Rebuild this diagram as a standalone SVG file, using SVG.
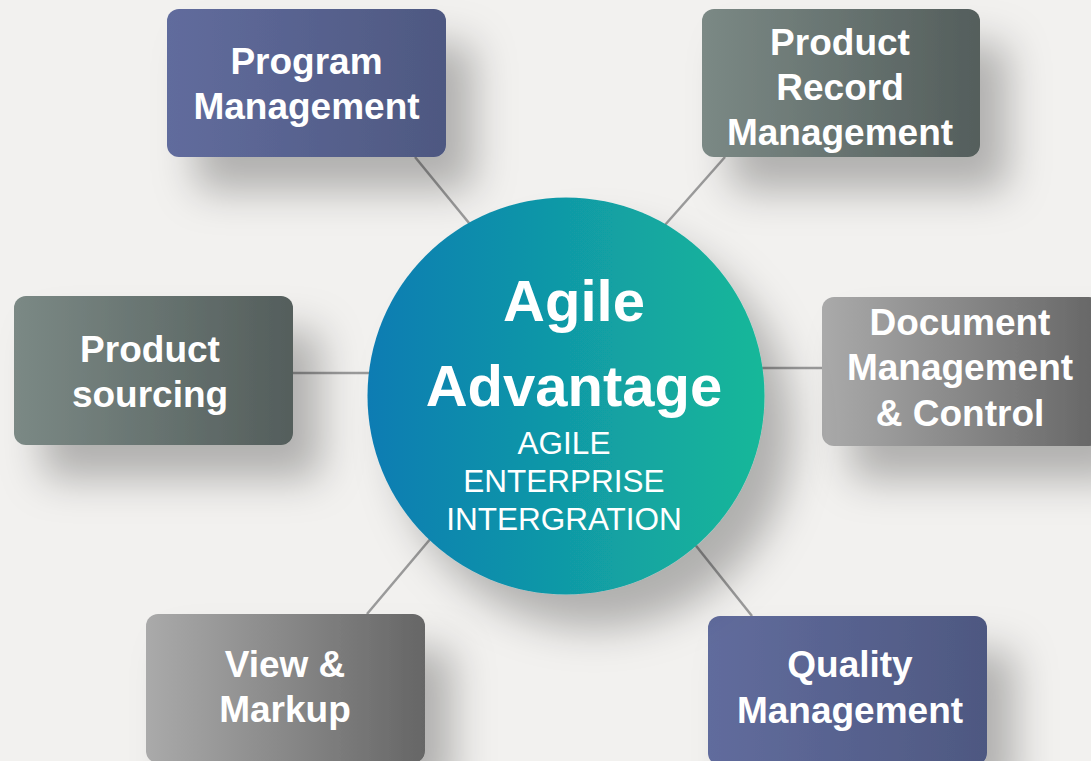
<svg xmlns="http://www.w3.org/2000/svg" width="1091" height="761" viewBox="0 0 1091 761">
  <defs>
    <linearGradient id="gBlue" x1="0" y1="0" x2="1" y2="0">
      <stop offset="0" stop-color="#616c9d"/>
      <stop offset="1" stop-color="#4e5881"/>
    </linearGradient>
    <linearGradient id="gSlate" x1="0" y1="0" x2="1" y2="0">
      <stop offset="0" stop-color="#7b8985"/>
      <stop offset="1" stop-color="#545e5c"/>
    </linearGradient>
    <linearGradient id="gGray" x1="0" y1="0" x2="1" y2="0">
      <stop offset="0" stop-color="#aaaaaa"/>
      <stop offset="1" stop-color="#666666"/>
    </linearGradient>
    <linearGradient id="gCircle" x1="0" y1="0" x2="1" y2="0">
      <stop offset="0" stop-color="#0d7cb3"/>
      <stop offset="1" stop-color="#15b899"/>
    </linearGradient>
    <filter id="shadow" x="-40%" y="-40%" width="190%" height="220%">
      <feGaussianBlur in="SourceAlpha" stdDeviation="20" result="b"/>
      <feOffset in="b" dx="28" dy="34" result="o"/>
      <feFlood flood-color="#000" flood-opacity="0.27"/>
      <feComposite in2="o" operator="in" result="s"/>
      <feMerge>
        <feMergeNode in="s"/>
        <feMergeNode in="SourceGraphic"/>
      </feMerge>
    </filter>
  </defs>
  <style>
    .box { filter: url(#shadow); }
    .lbl { font-family: "Liberation Sans", Arial, sans-serif; font-weight: bold; font-size: 37px; fill: #ffffff; text-anchor: middle; }
    .title { font-family: "Liberation Sans", Arial, sans-serif; font-weight: bold; font-size: 58px; fill: #ffffff; text-anchor: middle; }
    .sub { font-family: "Liberation Sans", Arial, sans-serif; font-size: 31.5px; fill: #ffffff; text-anchor: middle; }
    .conn { stroke: #9a9a9a; stroke-width: 2.5; fill: none; }
  </style>

  <rect x="0" y="0" width="1091" height="761" fill="#f2f1ef"/>

  <g id="connectors">
    <line class="conn" x1="415" y1="157" x2="478" y2="234"/>
    <line class="conn" x1="725" y1="157" x2="657" y2="234"/>
    <line class="conn" x1="292" y1="373" x2="380" y2="373"/>
    <line class="conn" x1="750" y1="368" x2="822" y2="368"/>
    <line class="conn" x1="367" y1="614" x2="437" y2="531"/>
    <line class="conn" x1="752" y1="616" x2="689" y2="537"/>
  </g>

  <g id="program-management">
    <rect class="box" x="167" y="9" width="279" height="148" rx="12" fill="url(#gBlue)"/>
    <text class="lbl" x="306.5" y="74">Program</text>
    <text class="lbl" x="306.5" y="118.5">Management</text>
  </g>

  <g id="product-record-management">
    <rect class="box" x="702" y="9" width="278" height="148" rx="12" fill="url(#gSlate)"/>
    <text class="lbl" x="840" y="55">Product</text>
    <text class="lbl" x="840" y="100">Record</text>
    <text class="lbl" x="840" y="145">Management</text>
  </g>

  <g id="product-sourcing">
    <rect class="box" x="14" y="296" width="279" height="149" rx="12" fill="url(#gSlate)"/>
    <text class="lbl" x="150" y="362">Product</text>
    <text class="lbl" x="150" y="407">sourcing</text>
  </g>

  <g id="document-management">
    <rect class="box" x="822" y="297" width="279" height="149" rx="12" fill="url(#gGray)"/>
    <text class="lbl" x="960" y="335">Document</text>
    <text class="lbl" x="960" y="380">Management</text>
    <text class="lbl" x="960" y="425.5">&amp; Control</text>
  </g>

  <g id="view-markup">
    <rect class="box" x="146" y="614" width="279" height="149" rx="12" fill="url(#gGray)"/>
    <text class="lbl" x="285" y="677">View &amp;</text>
    <text class="lbl" x="285" y="722">Markup</text>
  </g>

  <g id="quality-management">
    <rect class="box" x="708" y="616" width="279" height="149" rx="12" fill="url(#gBlue)"/>
    <text class="lbl" x="850" y="677">Quality</text>
    <text class="lbl" x="850" y="723">Management</text>
  </g>

  <g id="agile-advantage">
    <circle class="box" cx="566" cy="396" r="198.5" fill="url(#gCircle)"/>
    <text class="title" x="574" y="321">Agile</text>
    <text class="title" x="574" y="406">Advantage</text>
    <text class="sub" x="564" y="454">AGILE</text>
    <text class="sub" x="564" y="492">ENTERPRISE</text>
    <text class="sub" x="564" y="530">INTERGRATION</text>
  </g>
</svg>
